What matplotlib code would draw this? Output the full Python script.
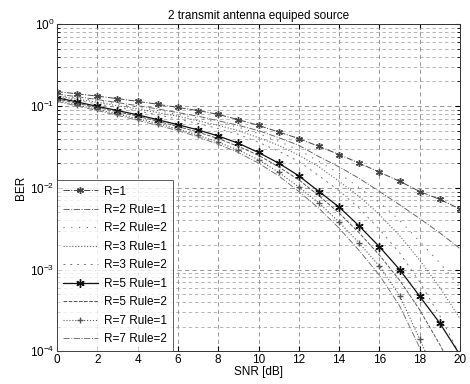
import matplotlib
matplotlib.use("Agg")
import matplotlib.pyplot as plt
import numpy as np

plt.rcParams['font.family'] = ['Liberation Sans', 'DejaVu Sans']
plt.rcParams['mathtext.fontset'] = 'custom'
plt.rcParams['mathtext.rm'] = 'Liberation Sans'

# SNR axis
snr = np.arange(0, 21)

# BER values
ber_r1 = [0.150, 0.141, 0.132, 0.123, 0.114, 0.105, 0.096, 0.088, 0.079, 0.068, 0.058,
          0.048, 0.040, 0.032, 0.0255, 0.020, 0.0155, 0.012, 0.0090, 0.0072, 0.0055]
ber_r2_rule1 = [0.140, 0.130, 0.120, 0.110, 0.101, 0.092, 0.083, 0.075, 0.066, 0.058, 0.050,
                0.041, 0.033, 0.024, 0.018, 0.013, 0.0090, 0.0062, 0.0042, 0.0028, 0.0018]
ber_r2_rule2 = [0.135, 0.125, 0.115, 0.106, 0.097, 0.088, 0.079, 0.071, 0.063, 0.055, 0.046,
                0.037, 0.029, 0.021, 0.015, 0.010, 0.0066, 0.0040, 0.0022, 0.0012, 0.00060]
ber_r3_rule1 = [0.132, 0.121, 0.111, 0.101, 0.092, 0.083, 0.075, 0.066, 0.058, 0.050, 0.041,
                0.033, 0.025, 0.018, 0.012, 0.0078, 0.0047, 0.0026, 0.0013, 0.00060, 0.00025]
ber_r3_rule2 = [0.128, 0.117, 0.106, 0.096, 0.087, 0.078, 0.069, 0.061, 0.053, 0.045, 0.036,
                0.028, 0.021, 0.014, 0.0092, 0.0056, 0.0031, 0.0016, 0.00070, 0.00027, 0.00009]
ber_r5_rule1 = [0.126, 0.112, 0.099, 0.088, 0.078, 0.068, 0.059, 0.051, 0.043, 0.035, 0.027,
                0.020, 0.0140, 0.0090, 0.0058, 0.0034, 0.0019, 0.00100, 0.00047, 0.00022, 0.00009]
ber_r5_rule2 = [0.122, 0.108, 0.096, 0.085, 0.075, 0.065, 0.056, 0.048, 0.040, 0.032, 0.025,
                0.018, 0.0125, 0.0080, 0.0049, 0.0028, 0.0015, 0.00074, 0.00032, 0.00012, 0.00004]
ber_r7_rule1 = [0.117, 0.103, 0.091, 0.080, 0.070, 0.061, 0.052, 0.044, 0.036, 0.029, 0.022,
                0.0155, 0.0102, 0.0065, 0.0038, 0.0021, 0.0011, 0.00048, 0.00014, 0.00004, 0.00001]
ber_r7_rule2 = [0.114, 0.100, 0.088, 0.077, 0.067, 0.058, 0.050, 0.042, 0.034, 0.027, 0.020,
                0.0140, 0.0090, 0.0056, 0.0032, 0.0017, 0.00085, 0.00036, 0.00011, 0.00003, 0.00001]

labels = ['R=1', 'R=2 Rule=1', 'R=2 Rule=2', 'R=3 Rule=1', 'R=3 Rule=2',
          'R=5 Rule=1', 'R=5 Rule=2', 'R=7 Rule=1', 'R=7 Rule=2']
series = [ber_r1, ber_r2_rule1, ber_r2_rule2, ber_r3_rule1, ber_r3_rule2,
          ber_r5_rule1, ber_r5_rule2, ber_r7_rule1, ber_r7_rule2]

ast = (6, 2, 0)  # matlab-like asterisk
styles = [
    dict(ls='-.', marker=ast, color='#444444', lw=0.7, ms=5),
    dict(ls='-.', marker='', color='#666666', lw=0.7),
    dict(ls=(0, (1, 6)), marker='', color='#666666', lw=0.8),
    dict(ls=':', marker='', color='#666666', lw=0.8),
    dict(ls=(0, (2, 5)), marker='', color='#777777', lw=0.7),
    dict(ls='-', marker=ast, color='#111111', lw=0.9, ms=6),
    dict(ls='--', marker='', color='#555555', lw=0.7),
    dict(ls=':', marker='+', color='#555555', lw=0.8, ms=5),
    dict(ls='-.', marker='', color='#777777', lw=0.7),
]

fig = plt.figure(figsize=(4.70, 3.84), dpi=100)
ax = fig.add_axes([0.121, 0.085, 0.858, 0.852])

for y, lab, st in zip(series, labels, styles):
    ax.semilogy(snr, y, label=lab, **st)

ax.set_xlim(0, 20)
ax.set_ylim(1e-4, 1)
ax.set_xticks(np.arange(0, 21, 2))
ax.grid(True, which='major', ls=(0, (5, 4)), color='#888888', lw=0.6)
ax.grid(True, which='minor', axis='y', ls=(0, (5, 4)), color='#999999', lw=0.5)
ax.tick_params(which='both', direction='in', labelsize=8.5, top=True, right=True, pad=2)
ax.tick_params(which='minor', length=2)
for s in ax.spines.values():
    s.set_linewidth(0.7)
    s.set_color('#333333')

ax.set_title('2 transmit antenna equiped source', fontsize=8.5, pad=4)
ax.set_xlabel('SNR [dB]', fontsize=8.5, labelpad=0)
ax.set_ylabel('BER', fontsize=8.5, labelpad=2)

leg = ax.legend(loc='lower left', fontsize=8.5, frameon=True, fancybox=False,
                borderaxespad=0, handlelength=3.0, handletextpad=0.5,
                labelspacing=0.55, borderpad=0.5, edgecolor='#333333')
leg.get_frame().set_linewidth(0.7)

fig.savefig('out.png', dpi=100)
